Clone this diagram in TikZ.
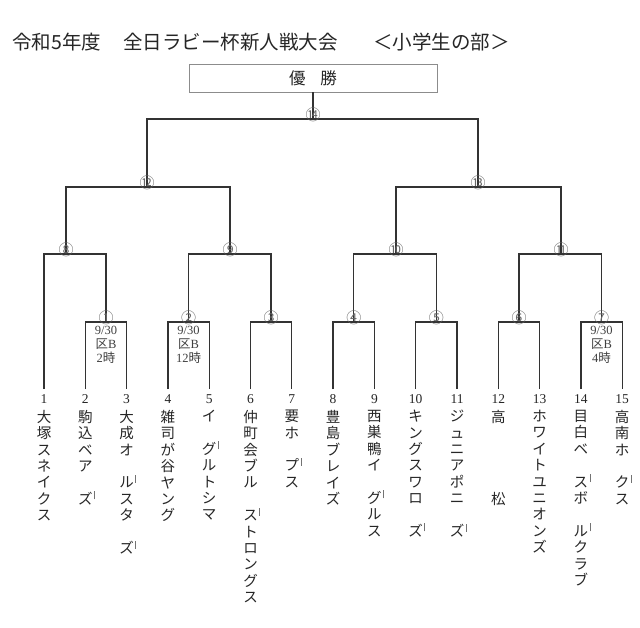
\documentclass[tikz,border=0pt]{standalone}
\usepackage{fontspec}
\setmainfont{Liberation Serif}
\newfontfamily\cjk{Noto Sans CJK JP}
% the small bar that stands beside a kana after a long vowel
\newcommand\longmark{\rlap{\kern1.5pt\textcolor{black!55}{\raisebox{5pt}{\rule{0.6pt}{8pt}}}}}
\newcommand\gap{\phantom{ー}}

\begin{document}
\begin{tikzpicture}[x=1pt, y=-1pt,
    line/.style={draw=black!80, line width=1.3pt},
    circnum/.style={font=\cjk\fontsize{15}{15}\selectfont, text=black!60, inner sep=0pt, yshift=4.5pt},
    leafnum/.style={font=\fontsize{13.5}{13.5}\selectfont, text=black!85, inner sep=0pt},
    team/.style={font=\cjk\fontsize{14.5}{16.4}\selectfont, text=black!85, inner sep=0pt, anchor=north, align=center},
    slot/.style={font=\fontsize{12.5}{14}\selectfont, text=black!75, inner sep=0pt, anchor=north, align=center, yshift=-4pt}]
    \useasboundingbox (0,0) rectangle (640,628);
    \fill[white] (0,0) rectangle (640,628);

    % title
    \node[anchor=west, inner sep=0pt, font=\cjk\fontsize{19.5}{19.5}\selectfont, text=black!85] (title) at (12,42) {令和5年度};
    \node[anchor=west, inner sep=0pt, font=\cjk\fontsize{19.5}{19.5}\selectfont, text=black!85] (cup) at (123,42) {全日ラビー杯新人戦大会};
    \node[anchor=west, inner sep=0pt, font=\cjk\fontsize{19.5}{19.5}\selectfont, text=black!85] (division) at (373,42) {＜小学生の部＞};

    % winner box
    \node[draw=black!45, line width=0.8pt, minimum width=248pt, minimum height=28pt,
      font=\cjk\fontsize{16.5}{16.5}\selectfont, text=black!85] (champ) at (313,78) {優\hspace{0.9em}勝};

    % ends of the team lines
    \coordinate (t1) at (44,389);
    \coordinate (t2) at (85.3,389);
    \coordinate (t3) at (126.6,389);
    \coordinate (t4) at (167.9,389);
    \coordinate (t5) at (209.2,389);
    \coordinate (t6) at (250.5,389);
    \coordinate (t7) at (291.8,389);
    \coordinate (t8) at (333.1,389);
    \coordinate (t9) at (374.4,389);
    \coordinate (t10) at (415.7,389);
    \coordinate (t11) at (457,389);
    \coordinate (t12) at (498.3,389);
    \coordinate (t13) at (539.6,389);
    \coordinate (t14) at (580.9,389);
    \coordinate (t15) at (622.2,389);

    % match points
    \coordinate (j1) at (106,322);
    \coordinate (j2) at (188.5,322);
    \coordinate (j3) at (271,322);
    \coordinate (j4) at (353.8,322);
    \coordinate (j5) at (436.4,322);
    \coordinate (j6) at (519,322);
    \coordinate (j7) at (601.5,322);
    \coordinate (j8) at (66,254);
    \coordinate (j9) at (230,254);
    \coordinate (j10) at (396,254);
    \coordinate (j11) at (561,254);
    \coordinate (j12) at (147,187);
    \coordinate (j13) at (478,187);
    \coordinate (j14) at (313,119);

    % bracket
    \draw[line] (t2) |- (j1) -| (t3);
    \draw[line] (t4) |- (j2) -| (t5);
    \draw[line] (t6) |- (j3) -| (t7);
    \draw[line] (t8) |- (j4) -| (t9);
    \draw[line] (t10) |- (j5) -| (t11);
    \draw[line] (t12) |- (j6) -| (t13);
    \draw[line] (t14) |- (j7) -| (t15);
    \draw[line] (t1) |- (j8) -| (j1);
    \draw[line] (j2) |- (j9) -| (j3);
    \draw[line] (j4) |- (j10) -| (j5);
    \draw[line] (j6) |- (j11) -| (j7);
    \draw[line] (j8) |- (j12) -| (j9);
    \draw[line] (j10) |- (j13) -| (j11);
    \draw[line] (j12) |- (j14) -| (j13);
    \draw[line] (j14) -- (champ);

    % match numbers
    \node[circnum] (m1) at (j1) {①};
    \node[circnum] (m2) at (j2) {②};
    \node[circnum] (m3) at (j3) {③};
    \node[circnum] (m4) at (j4) {④};
    \node[circnum] (m5) at (j5) {⑤};
    \node[circnum] (m6) at (j6) {⑥};
    \node[circnum] (m7) at (j7) {⑦};
    \node[circnum] (m8) at (j8) {⑧};
    \node[circnum] (m9) at (j9) {⑨};
    \node[circnum] (m10) at (j10) {⑩};
    \node[circnum] (m11) at (j11) {⑪};
    \node[circnum] (m12) at (j12) {⑫};
    \node[circnum] (m13) at (j13) {⑬};
    \node[circnum] (m14) at (j14) {⑭};

    % dates of the first games
    \node[slot] (d1) at (j1) {9/30\\{\cjk 区}B\\2{\cjk 時}};
    \node[slot] (d2) at (j2) {9/30\\{\cjk 区}B\\12{\cjk 時}};
    \node[slot] (d7) at (j7) {9/30\\{\cjk 区}B\\4{\cjk 時}};

    % team numbers
    \node[leafnum] (n1) at (44,399) {1};
    \node[leafnum] (n2) at (85.3,399) {2};
    \node[leafnum] (n3) at (126.6,399) {3};
    \node[leafnum] (n4) at (167.9,399) {4};
    \node[leafnum] (n5) at (209.2,399) {5};
    \node[leafnum] (n6) at (250.5,399) {6};
    \node[leafnum] (n7) at (291.8,399) {7};
    \node[leafnum] (n8) at (333.1,399) {8};
    \node[leafnum] (n9) at (374.4,399) {9};
    \node[leafnum] (n10) at (415.7,399) {10};
    \node[leafnum] (n11) at (457,399) {11};
    \node[leafnum] (n12) at (498.3,399) {12};
    \node[leafnum] (n13) at (539.6,399) {13};
    \node[leafnum] (n14) at (580.9,399) {14};
    \node[leafnum] (n15) at (622.2,399) {15};

    % team names, one character a line
    \node[team] (s1) at (44,410) {大\\塚\\ス\\ネ\\イ\\ク\\ス};
    \node[team] (s2) at (85.3,410) {駒\\込\\ベ\\ア\\\gap\\ズ\longmark};
    \node[team] (s3) at (126.6,410) {大\\成\\オ\\\gap\\ル\longmark\\ス\\タ\\\gap\\ズ\longmark};
    \node[team] (s4) at (167.9,410) {雑\\司\\が\\谷\\ヤ\\ン\\グ};
    \node[team] (s5) at (209.2,410) {イ\\\gap\\グ\longmark\\ル\\ト\\シ\\マ};
    \node[team] (s6) at (250.5,410) {仲\\町\\会\\ブ\\ル\\\gap\\ス\longmark\\ト\\ロ\\ン\\グ\\ス};
    \node[team] (s7) at (291.8,410) {要\\ホ\\\gap\\プ\longmark\\ス};
    \node[team] (s8) at (333.1,410) {豊\\島\\ブ\\レ\\イ\\ズ};
    \node[team] (s9) at (374.4,410) {西\\巣\\鴨\\イ\\\gap\\グ\longmark\\ル\\ス};
    \node[team] (s10) at (415.7,410) {キ\\ン\\グ\\ス\\ワ\\ロ\\\gap\\ズ\longmark};
    \node[team] (s11) at (457,410) {ジ\\ュ\\ニ\\ア\\ポ\\ニ\\\gap\\ズ\longmark};
    \node[team] (s12) at (498.3,410) {高\\\gap\\\gap\\\gap\\\gap\\松};
    \node[team] (s13) at (539.6,410) {ホ\\ワ\\イ\\ト\\ユ\\ニ\\オ\\ン\\ズ};
    \node[team] (s14) at (580.9,410) {目\\白\\ベ\\\gap\\ス\longmark\\ボ\\\gap\\ル\longmark\\ク\\ラ\\ブ};
    \node[team] (s15) at (622.2,410) {高\\南\\ホ\\\gap\\ク\longmark\\ス};
  \end{tikzpicture}
\end{document}
